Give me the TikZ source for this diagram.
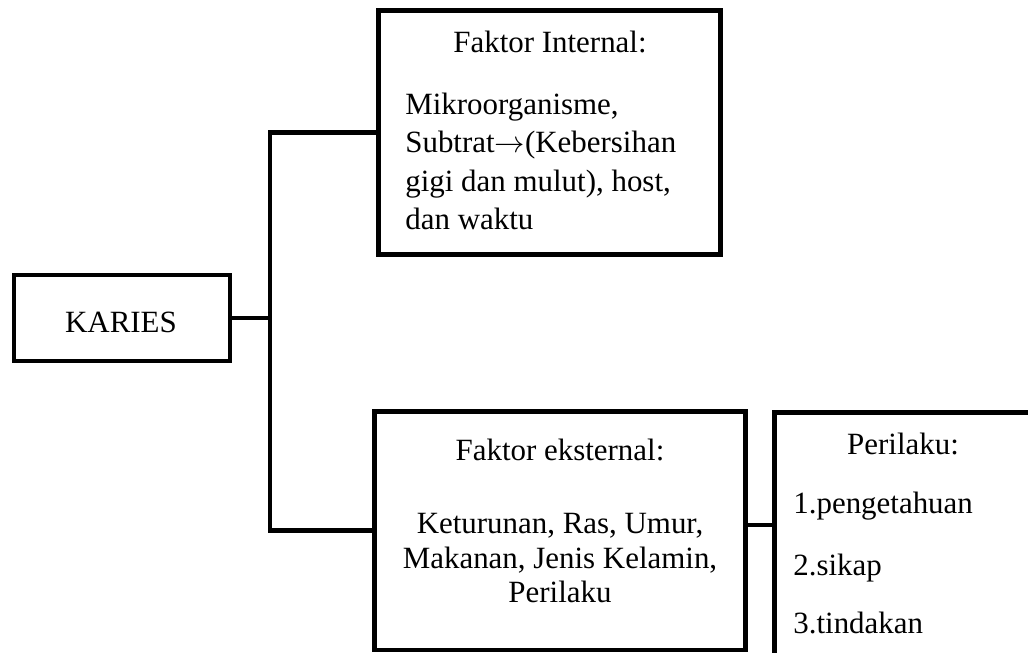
\documentclass[tikz,border=0pt]{standalone}
\usepackage{fontspec}
\setmainfont{Liberation Serif}
\usepackage{tikz}
\usetikzlibrary{positioning, calc}

\begin{document}
\begin{tikzpicture}[
		box/.style={draw, rectangle, line width=0.095cm, inner sep=0pt, outer sep=0pt, anchor=north west},
		txt/.style={font=\fontsize{17.6}{21}\selectfont, inner sep=0pt},
		link/.style={line width=0.095cm}]
		\clip (0, 0) rectangle (20.56, -13.06);
		% boxes
		\node[box, minimum width=4.32cm, minimum height=1.72cm] (karies) at (0.28, -5.50) {};
		\node[box, minimum width=6.84cm, minimum height=4.88cm] (internal) at (7.57, -0.21) {};
		\node[box, minimum width=7.42cm, minimum height=4.77cm] (eksternal) at (7.49, -8.23) {};
		\node[box, minimum width=5.20cm, minimum height=5.00cm] (perilaku) at (15.49, -8.25) {};
		% texts
		\node[txt, anchor=base] (karies_t) at (2.42, -6.66) {KARIES};
		\node[txt, anchor=base] (internal_t) at (11.00, -1.06) {Faktor Internal:};
		\node[txt, anchor=base west] (internal_1) at (8.10, -2.30) {Mikroorganisme,};
		\node[txt, anchor=base west] (internal_2) at (8.10, -3.06) {Subtrat$\rightarrow$(Kebersihan};
		\node[txt, anchor=base west] (internal_3) at (8.10, -3.84) {gigi dan mulut), host,};
		\node[txt, anchor=base west] (internal_4) at (8.10, -4.60) {dan waktu};
		\node[txt, anchor=base] (eksternal_t) at (11.20, -9.20) {Faktor eksternal:};
		\node[txt, anchor=base] (eksternal_1) at (11.20, -10.66) {Keturunan, Ras, Umur,};
		\node[txt, anchor=base] (eksternal_2) at (11.20, -11.36) {Makanan, Jenis Kelamin,};
		\node[txt, anchor=base] (eksternal_3) at (11.20, -12.04) {Perilaku};
		\node[txt, anchor=base] (perilaku_t) at (18.06, -9.08) {Perilaku:};
		\node[txt, anchor=base west] (perilaku_1) at (15.86, -10.26) {1.pengetahuan};
		\node[txt, anchor=base west] (perilaku_2) at (15.86, -11.50) {2.sikap};
		\node[txt, anchor=base west] (perilaku_3) at (15.86, -12.66) {3.tindakan};
		% connectors
		\draw[link] (karies.east) -- ++(0.80, 0);
		\draw[link] (internal.west) -| ($(karies.east) + (0.80, 0)$) |- (eksternal.west);
		\draw[link] ($(eksternal.east) + (0, 0.115)$) -- ($(eksternal.east -| perilaku.west) + (0, 0.115)$);
	\end{tikzpicture}
\end{document}
